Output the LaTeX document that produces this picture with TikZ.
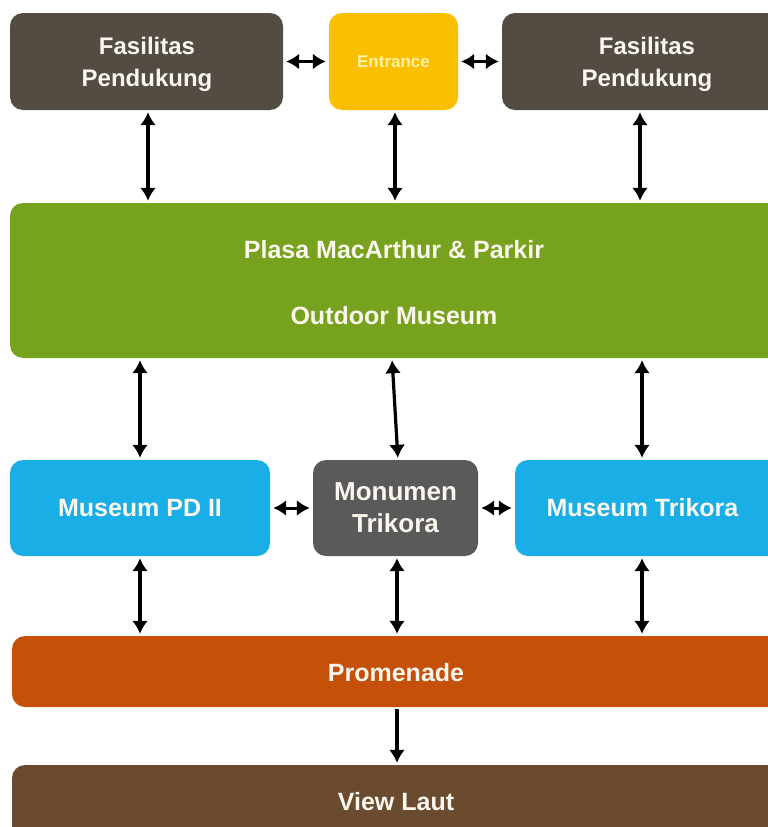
\documentclass[tikz,border=0pt]{standalone}
\usepackage{fontspec}
\setmainfont{Liberation Sans}
\usetikzlibrary{arrows.meta,calc}
\definecolor{cfas}{HTML}{524C43}
\definecolor{cent}{HTML}{FAC000}
\definecolor{centtxt}{HTML}{FFF2A8}
\definecolor{cgreen}{HTML}{77A21E}
\definecolor{cblue}{HTML}{1AAEE6}
\definecolor{cmon}{HTML}{5A5A5A}
\definecolor{cprom}{HTML}{C4500A}
\definecolor{cview}{HTML}{6A4B2F}
\definecolor{ctxt}{HTML}{FBF7EE}
\tikzset{
  box/.style={rounded corners=13pt, inner sep=0pt, align=center, text=ctxt, font=\bfseries\fontsize{25}{30}\selectfont},
  lbl/.style={text=ctxt, font=\bfseries\fontsize{25}{30}\selectfont},
  fas/.style={text=ctxt, align=center, font=\bfseries\fontsize{24}{32}\selectfont},
  varrow/.style={line width=3.2pt, {Latex[length=13pt,width=16pt]}-{Latex[length=13pt,width=16pt]}, shorten <=2pt, shorten >=2pt},
  harrow/.style={line width=3pt, {Latex[length=13pt,width=16pt]}-{Latex[length=13pt,width=16pt]}, shorten <=3pt, shorten >=3pt},
  sarrow/.style={line width=3.2pt, -{Latex[length=13pt,width=16pt]}, shorten <=2pt, shorten >=2pt}
}
\begin{document}
\begin{tikzpicture}[x=1pt,y=-1pt]
\useasboundingbox (0,0) rectangle (768,827);
\clip (0,0) rectangle (768,827);
% top row
\node[box, fill=cfas, minimum width=273pt, minimum height=97pt] (fl) at (146.5,61.5) {};
\node[fas] (flt) at (147,64) {Fasilitas\\Pendukung};
\node[box, fill=cent, text=centtxt, minimum width=129pt, minimum height=97pt, font=\bfseries\fontsize{17}{20}\selectfont] (en) at (393.5,61.5) {Entrance};
\node[box, fill=cfas, minimum width=280pt, minimum height=97pt] (fr) at (642,61.5) {};
\node[fas] (frt) at (647,64) {Fasilitas\\Pendukung};
% green
\node[box, fill=cgreen, minimum width=772pt, minimum height=155pt] (gr) at (396,280.5) {};
\node[lbl] (gt1) at (394,250) {Plasa MacArthur \& Parkir};
\node[lbl] (gt2) at (394,316) {Outdoor Museum};
% middle row
\node[box, fill=cblue, minimum width=260pt, minimum height=96pt] (pd) at (140,508) {Museum PD II};
\node[box, fill=cmon, minimum width=165pt, minimum height=96pt, font=\bfseries\fontsize{26}{32}\selectfont] (mo) at (395.5,508) {Monumen\\Trikora};
\node[box, fill=cblue, minimum width=267pt, minimum height=96pt] (mt) at (648.5,508) {\hspace*{-12pt}Museum Trikora};
% bottom
\node[box, fill=cprom, minimum width=770pt, minimum height=71pt] (pr) at (397,671.5) {};
\node[lbl] (prt) at (396,673) {Promenade};
\node[box, fill=cview, minimum width=770pt, minimum height=100pt] (vl) at (397,815) {};
\node[lbl] (vlt) at (396,802) {View Laut};
% coordinates for arrow columns
\coordinate (c1) at (148,0);
\coordinate (c2) at (395,0);
\coordinate (c3) at (640,0);
\coordinate (d1) at (140,0);
\coordinate (d3) at (642,0);
\coordinate (e2) at (397,0);
\coordinate (m1) at ($(gr.south -| c2)+(-3,0)$);
\coordinate (m2) at ($(mo.north -| c2)+(3,0)$);
% vertical arrows, row 1
\draw[varrow] (fl.south -| c1) -- (gr.north -| c1);
\draw[varrow] (en.south -| c2) -- (gr.north -| c2);
\draw[varrow] (fr.south -| c3) -- (gr.north -| c3);
% row 2
\draw[varrow] (gr.south -| d1) -- (pd.north -| d1);
\draw[varrow] (m1) -- (m2);
\draw[varrow] (gr.south -| d3) -- (mt.north -| d3);
% row 3
\draw[varrow] (pd.south -| d1) -- (pr.north -| d1);
\draw[varrow] (mo.south -| e2) -- (pr.north -| e2);
\draw[varrow] (mt.south -| d3) -- (pr.north -| d3);
% last
\draw[sarrow] (pr.south -| e2) -- (vl.north -| e2);
% horizontal arrows
\draw[harrow] (fl.east) -- (en.west);
\draw[harrow] (en.east) -- (fr.west);
\draw[harrow] (pd.east) -- (mo.west);
\draw[harrow] (mo.east) -- (mt.west);
\end{tikzpicture}
\end{document}
